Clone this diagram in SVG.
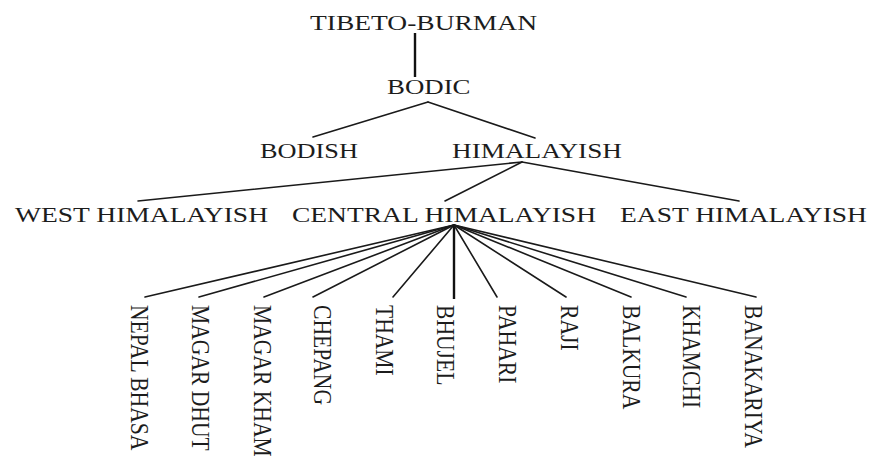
<svg xmlns="http://www.w3.org/2000/svg" width="872" height="457" viewBox="0 0 872 457">
  <style>
    .lbl { font-family: "Liberation Serif", "Times New Roman", serif; font-size: 21px; fill: #1c1c1c; }
    .vl { font-family: "Liberation Serif", "Times New Roman", serif; font-size: 21.6px; fill: #1c1c1c; }
    .edge { stroke: #1a1a1a; stroke-width: 1.6; fill: none; stroke-linecap: round; }
    .stem { stroke: #111; stroke-width: 2.4; fill: none; }
  </style>
  <rect width="872" height="457" fill="#fff"/>

  <g id="connectors">
    <line class="stem" x1="415" y1="33" x2="415" y2="77"/>
    <line class="edge" x1="428" y1="102" x2="313" y2="137"/>
    <line class="edge" x1="428" y1="102" x2="535" y2="138"/>
    <line class="edge" x1="522" y1="162" x2="138" y2="201"/>
    <line class="edge" x1="522" y1="162" x2="445" y2="201"/>
    <line class="edge" x1="522" y1="162" x2="739" y2="201"/>
    <line class="edge" x1="454" y1="225" x2="145" y2="297"/>
    <line class="edge" x1="454" y1="225" x2="199" y2="297"/>
    <line class="edge" x1="454" y1="225" x2="264" y2="297"/>
    <line class="edge" x1="454" y1="225" x2="313" y2="297"/>
    <line class="edge" x1="454" y1="225" x2="393" y2="297"/>
    <line class="stem" x1="454" y1="225" x2="454" y2="299"/>
    <line class="edge" x1="454" y1="225" x2="497" y2="297"/>
    <line class="edge" x1="454" y1="225" x2="566" y2="297"/>
    <line class="edge" x1="454" y1="225" x2="631" y2="297"/>
    <line class="edge" x1="454" y1="225" x2="686" y2="297"/>
    <line class="edge" x1="454" y1="225" x2="756" y2="297"/>
  </g>

  <g id="tibeto-burman"><text class="lbl" x="310" y="30" textLength="227" lengthAdjust="spacingAndGlyphs">TIBETO-BURMAN</text></g>
  <g id="bodic"><text class="lbl" x="387" y="93.5" textLength="83.5" lengthAdjust="spacingAndGlyphs">BODIC</text></g>
  <g id="bodish"><text class="lbl" x="260" y="157.5" textLength="98" lengthAdjust="spacingAndGlyphs">BODISH</text></g>
  <g id="himalayish"><text class="lbl" x="452" y="157.5" textLength="170" lengthAdjust="spacingAndGlyphs">HIMALAYISH</text></g>
  <g id="west-himalayish"><text class="lbl" x="15" y="221.7" textLength="253" lengthAdjust="spacingAndGlyphs">WEST HIMALAYISH</text></g>
  <g id="central-himalayish"><text class="lbl" x="292" y="221.7" textLength="304" lengthAdjust="spacingAndGlyphs">CENTRAL HIMALAYISH</text></g>
  <g id="east-himalayish"><text class="lbl" x="620" y="221.7" textLength="247" lengthAdjust="spacingAndGlyphs">EAST HIMALAYISH</text></g>

  <!-- vertical leaf labels: rotated to read top-down, widened horizontally -->
  <g id="nepal-bhasa"><text class="vl" transform="translate(130.5 305) scale(1.2 1) rotate(90)">NEPAL BHASA</text></g>
  <g id="magar-dhut"><text class="vl" transform="translate(191.7 305) scale(1.2 1) rotate(90)">MAGAR DHUT</text></g>
  <g id="magar-kham"><text class="vl" transform="translate(254 305) scale(1.2 1) rotate(90)">MAGAR KHAM</text></g>
  <g id="chepang"><text class="vl" transform="translate(314 305) scale(1.2 1) rotate(90)">CHEPANG</text></g>
  <g id="thami"><text class="vl" transform="translate(376 305) scale(1.2 1) rotate(90)">THAMI</text></g>
  <g id="bhujel"><text class="vl" transform="translate(437 305) scale(1.2 1) rotate(90)">BHUJEL</text></g>
  <g id="pahari"><text class="vl" transform="translate(498.5 305) scale(1.2 1) rotate(90)">PAHARI</text></g>
  <g id="raji"><text class="vl" transform="translate(561 305) scale(1.2 1) rotate(90)">RAJI</text></g>
  <g id="balkura"><text class="vl" transform="translate(622.7 305) scale(1.2 1) rotate(90)">BALKURA</text></g>
  <g id="khamchi"><text class="vl" transform="translate(683.3 305) scale(1.2 1) rotate(90)">KHAMCHI</text></g>
  <g id="banakariya"><text class="vl" transform="translate(745 305) scale(1.2 1) rotate(90)">BANAKARIYA</text></g>
</svg>
